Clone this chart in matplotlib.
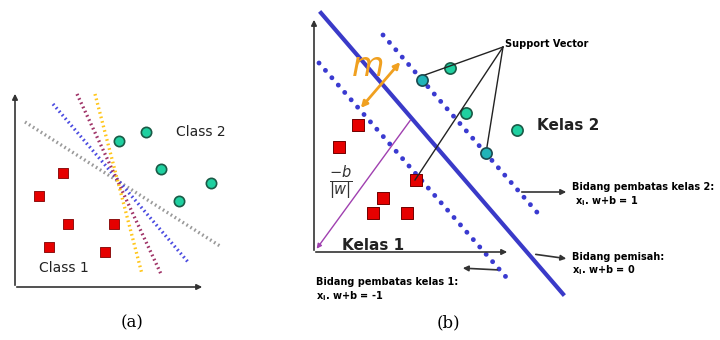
import matplotlib.pyplot as plt
import numpy as np

# panel (a): points and candidate lines (pixel coordinates of the picture)
a_red_x = [63, 39, 68, 114, 49, 105]
a_red_y = [173, 196, 224, 224, 247, 252]
a_green_x = [119, 146, 161, 211, 179]
a_green_y = [141, 132, 169, 183, 201]
a_lines = {
    '#9a9a9a': [(25, 122), (220, 246)],
    '#4a4ae0': [(53, 104), (188, 262)],
    '#a03468': [(77, 94), (161, 274)],
    '#ffc61a': [(95, 94), (142, 274)],
}

# panel (b)
b_red_x = [358, 339, 416, 383, 373, 407]
b_red_y = [125, 147, 180, 198, 213, 213]
b_green_x = [450, 466, 517]
b_green_y = [68, 113, 130]
b_sv_x = [422, 486]
b_sv_y = [80, 153]
hyper = [(321, 13), (563, 294)]
upper = [(383, 35), (542, 218)]
lower = [(319, 63), (506, 277)]
sv_apex = (503, 47)
sv_targets = [(422, 76), (415, 180), (486, 153)]

fig = plt.figure(figsize=(7.2, 3.4), dpi=100)
ax = fig.add_axes([0, 0, 1, 1])
ax.set_xlim(0, 720)
ax.set_ylim(340, 0)
ax.axis('off')

arr = dict(arrowstyle='-|>', color='#333333', lw=1.2, mutation_scale=8)

# ---- (a)
ax.annotate('', xy=(15, 91), xytext=(15, 288), arrowprops=arr)
ax.annotate('', xy=(205, 287), xytext=(14, 287), arrowprops=arr)
for c, pts in a_lines.items():
    ax.plot([pts[0][0], pts[1][0]], [pts[0][1], pts[1][1]], color=c, lw=2.4,
            ls=(0, (0.5, 0.9)), zorder=2)
ax.scatter(a_red_x, a_red_y, marker='s', s=60, color='#e60000', edgecolor='#800000', lw=0.6, zorder=3)
ax.scatter(a_green_x, a_green_y, marker='o', s=55, color='#1fd0a0', edgecolor='#1a5a46', lw=1.2, zorder=3)
ax.text(176, 132, 'Class 2', fontsize=10, va='center', ha='left', color='#222222')
ax.text(39, 268, 'Class 1', fontsize=10, va='center', ha='left', color='#222222')

# ---- (b)
ax.annotate('', xy=(314, 17), xytext=(314, 253), arrowprops=arr)
ax.annotate('', xy=(510, 252), xytext=(313, 252), arrowprops=arr)
ax.plot([hyper[0][0], hyper[1][0]], [hyper[0][1], hyper[1][1]], color='#3a3ac8', lw=3, zorder=2)
for seg in (upper, lower):
    ax.plot([seg[0][0], seg[1][0]], [seg[0][1], seg[1][1]], color='#3a3ad0', lw=3.5,
            ls=(0, (0.01, 2.0)), dash_capstyle='round', zorder=2)

# margin arrow and label
ax.annotate('', xy=(402, 60), xytext=(359, 110),
            arrowprops=dict(arrowstyle='<|-|>', color='#f0a020', lw=2, mutation_scale=9))
ax.text(367, 66, '$m$', fontsize=24, color='#f0a020', ha='center', va='center')

# perpendicular from origin
ax.annotate('', xy=(315, 251), xytext=(412, 118),
            arrowprops=dict(arrowstyle='-|>', color='#a040b0', lw=1, mutation_scale=7))
ax.text(341, 183, r'$\frac{-b}{|w|}$', fontsize=15, ha='center', va='center', color='#333333')

# support vector pointers
for tx, ty in sv_targets:
    ax.plot([sv_apex[0], tx], [sv_apex[1], ty], color='#222222', lw=1, zorder=4)
ax.text(505, 44, 'Support Vector', fontsize=7, weight='bold', ha='left', va='center')

ax.scatter(b_red_x, b_red_y, marker='s', s=75, color='#e60000', edgecolor='#700000', lw=0.7, zorder=3)
ax.scatter(b_green_x, b_green_y, marker='o', s=65, color='#1fd0a0', edgecolor='#1a5a46', lw=1.2, zorder=3)
ax.scatter(b_sv_x, b_sv_y, marker='o', s=65, color='#20b4b8', edgecolor='#1a4a50', lw=1.2, zorder=5)

ax.text(537, 126, 'Kelas 2', fontsize=11, weight='bold', ha='left', va='center', color='#222222')
ax.text(342, 245, 'Kelas 1', fontsize=11, weight='bold', ha='left', va='center', color='#222222')

# right side labels
ax.annotate('', xy=(569, 192), xytext=(519, 192), arrowprops=arr)
ax.text(572, 187, 'Bidang pembatas kelas 2:', fontsize=7, weight='bold', ha='left', va='center')
ax.text(575, 201, r'x$_\mathbf{i}$. w+b = 1', fontsize=7, weight='bold', ha='left', va='center')

ax.annotate('', xy=(569, 259), xytext=(533, 254), arrowprops=arr)
ax.text(572, 257, 'Bidang pemisah:', fontsize=7, weight='bold', ha='left', va='center')
ax.text(572, 270, r'x$_\mathbf{i}$. w+b = 0', fontsize=7, weight='bold', ha='left', va='center')

ax.annotate('', xy=(460, 268), xytext=(500, 270), arrowprops=arr)
ax.text(316, 282, 'Bidang pembatas kelas 1:', fontsize=7, weight='bold', ha='left', va='center')
ax.text(316, 296, r'x$_\mathbf{i}$. w+b = -1', fontsize=7, weight='bold', ha='left', va='center')

# captions
ax.text(132, 323, '(a)', fontsize=12, family='DejaVu Serif', ha='center', va='center')
ax.text(448, 323, '(b)', fontsize=12, family='DejaVu Serif', ha='center', va='center')

fig.savefig('out.png', dpi=100)
